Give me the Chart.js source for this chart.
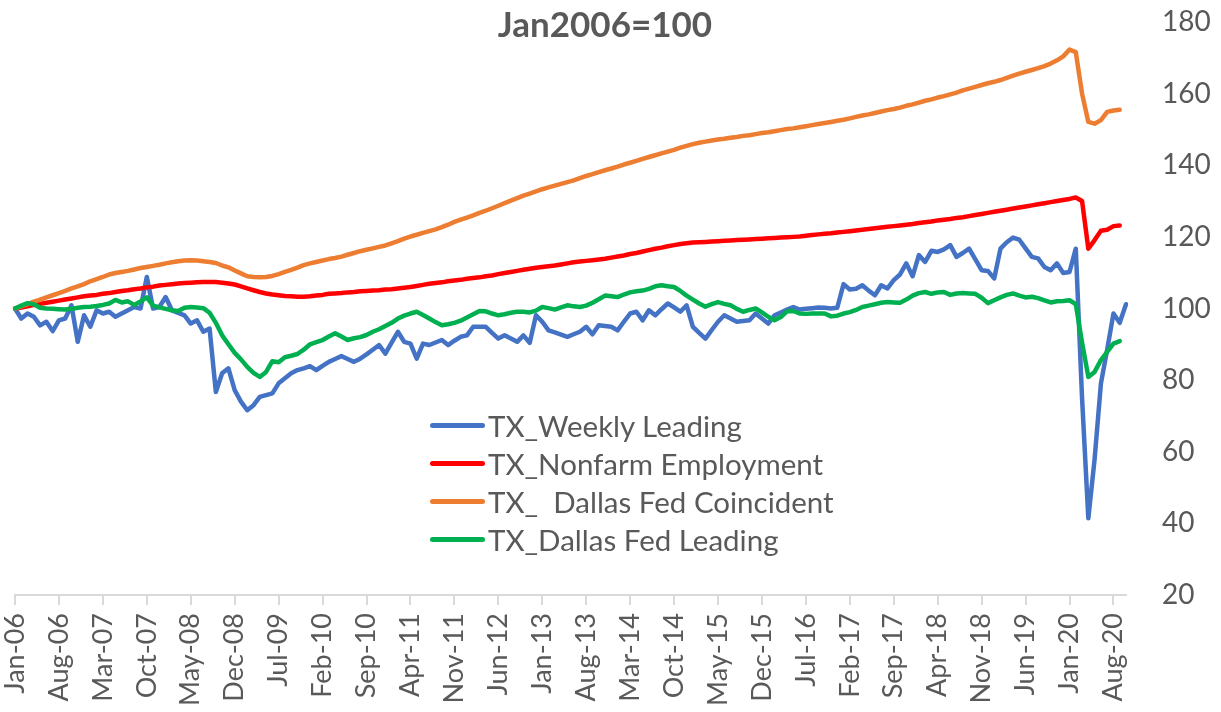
<!DOCTYPE html>
<html>
<head>
<meta charset="utf-8">
<title>Texas indexes, Jan2006=100</title>
<script src="https://cdn.jsdelivr.net/npm/chart.js@4.4.1/dist/chart.umd.min.js"></script>
<style>
  html, body { margin: 0; padding: 0; background: #fff; }
  #wrap { position: relative; width: 1221px; height: 712px; }
  #chart { display: block; }
  #title {
    position: absolute; left: 0; top: 2px; width: 1210px;
    text-align: center; font: bold 35px Lato, sans-serif; color: #595959;
  }
  #legend { position: absolute; left: 430px; top: 406px; font: 29.5px Lato, sans-serif; color: #595959; }
  #legend .row { height: 38px; display: flex; align-items: center; white-space: pre; }
  #legend .swatch { width: 55px; height: 5px; border-radius: 3px; margin-right: 3px; }
</style>
</head>
<body>
<div id="wrap">
  <canvas id="chart" width="1221" height="712"></canvas>
  <div id="title">Jan2006=100</div>
  <div id="legend"></div>
</div>
<script>
// monthly categories Jan-06 .. Oct-20
const monthNames = ["Jan", "Feb", "Mar", "Apr", "May", "Jun", "Jul", "Aug", "Sep", "Oct", "Nov", "Dec"];
const firstYear = 2006;
const lastYear = 2020;
const lastMonth = 10;

const categories = [];
for (let y = firstYear; y <= lastYear; y++) {
  for (let m = 0; m < 12; m++) {
    if (y === lastYear && m >= lastMonth) break;
    categories.push(monthNames[m] + "-" + String(y).slice(2));
  }
}

const yTicks = { min: 20, max: 180, step: 20 };

// TX_Weekly Leading (through Oct-20)
const weeklyLeading = [
  100.0, 97.2, 98.6, 97.7, 95.3, 96.3, 93.7, 96.7, 97.2, 100.9, 90.7, 98.1,
  94.9, 99.5, 98.6, 99.1, 97.7, 98.6, 99.5, 100.4, 100.0, 108.8, 100.0, 100.4,
  103.2, 99.5, 98.8, 98.1, 95.8, 96.7, 93.5, 94.4, 76.7, 81.9, 83.3, 77.2,
  74.0, 71.6, 73.0, 75.3, 75.8, 76.3, 79.1, 80.5, 81.9, 82.8, 83.3, 83.9,
  82.8, 84.0, 85.1, 85.9, 86.7, 85.9, 85.1, 86.0, 87.2, 88.5, 89.8, 87.4,
  90.5, 93.5, 90.7, 90.2, 86.0, 90.2, 89.8, 90.5, 91.2, 89.8, 91.0, 92.1,
  92.5, 94.9, 94.9, 94.9, 93.2, 91.6, 92.5, 91.6, 90.7, 92.5, 90.4, 98.1,
  96.3, 93.9, 93.3, 92.7, 92.1, 92.8, 93.5, 94.9, 92.8, 95.3, 95.1, 94.9,
  93.9, 96.3, 98.6, 99.1, 96.7, 99.5, 98.1, 99.8, 101.4, 100.3, 99.1, 100.9,
  94.9, 93.2, 91.6, 94.0, 96.3, 98.1, 97.2, 96.3, 96.5, 96.7, 98.6, 97.2,
  95.8, 98.1, 98.9, 99.7, 100.4, 99.7, 99.9, 100.1, 100.3, 100.2, 100.0, 100.2,
  106.8, 105.3, 105.5, 106.5, 105.0, 103.7, 106.5, 105.6, 107.9, 109.5, 112.6, 109.0,
  114.9, 113.0, 116.1, 115.8, 116.5, 117.7, 114.4, 115.5, 116.7, 113.7, 110.7, 110.5,
  108.4, 116.7, 118.5, 119.8, 119.2, 116.8, 114.4, 114.0, 111.6, 110.7, 112.6, 109.9,
  110.2, 116.7, 75.0, 41.4, 58.0, 79.0, 88.5, 98.6, 96.0, 101.2
];

// TX_Nonfarm Employment (through Sep-20)
const nonfarm = [
  100.0, 100.3, 100.6, 101.0, 101.3, 101.6, 101.9, 102.2, 102.5, 102.8, 103.1, 103.4,
  103.6, 103.8, 104.1, 104.3, 104.6, 104.9, 105.1, 105.4, 105.6, 105.9, 106.1, 106.4,
  106.6, 106.8, 107.0, 107.1, 107.2, 107.3, 107.4, 107.4, 107.4, 107.2, 107.0, 106.7,
  106.2, 105.6, 105.1, 104.6, 104.2, 103.9, 103.7, 103.5, 103.4, 103.3, 103.3, 103.4,
  103.6, 103.8, 104.1, 104.2, 104.3, 104.5, 104.6, 104.8, 104.9, 105.0, 105.1, 105.3,
  105.4, 105.6, 105.8, 106.0, 106.3, 106.6, 106.9, 107.1, 107.3, 107.6, 107.8, 108.0,
  108.3, 108.5, 108.7, 109.0, 109.2, 109.6, 109.9, 110.2, 110.5, 110.8, 111.1, 111.4,
  111.6, 111.8, 112.0, 112.3, 112.6, 112.9, 113.1, 113.3, 113.5, 113.7, 113.9, 114.2,
  114.5, 114.8, 115.2, 115.5, 115.9, 116.3, 116.7, 117.0, 117.4, 117.7, 118.0, 118.2,
  118.4, 118.5, 118.6, 118.7, 118.8, 118.9, 119.0, 119.1, 119.2, 119.3, 119.4, 119.5,
  119.6, 119.7, 119.8, 119.9, 120.0, 120.1, 120.3, 120.5, 120.7, 120.9, 121.0, 121.2,
  121.4, 121.6, 121.8, 122.0, 122.2, 122.4, 122.6, 122.8, 123.0, 123.2, 123.4, 123.6,
  123.9, 124.1, 124.3, 124.6, 124.8, 125.0, 125.3, 125.5, 125.8, 126.1, 126.4, 126.7,
  127.0, 127.3, 127.6, 127.9, 128.2, 128.5, 128.8, 129.1, 129.4, 129.7, 130.0, 130.3,
  130.6, 131.0, 130.0, 116.7, 119.1, 121.7, 122.0, 123.0, 123.2
];

// TX_ Dallas Fed Coincident (through Sep-20)
const coincident = [
  100.0, 100.6, 101.2, 101.9, 102.5, 103.1, 103.7, 104.3, 104.9, 105.6, 106.2, 106.8,
  107.6, 108.2, 108.8, 109.5, 109.9, 110.2, 110.5, 110.9, 111.3, 111.6, 111.9, 112.2,
  112.6, 112.9, 113.2, 113.4, 113.5, 113.4, 113.2, 113.0, 112.7, 112.0, 111.5, 110.6,
  109.8, 109.0, 108.8, 108.7, 108.8, 109.1, 109.6, 110.2, 110.8, 111.4, 112.1, 112.6,
  113.0, 113.4, 113.8, 114.1, 114.5, 115.0, 115.5, 116.0, 116.4, 116.8, 117.2, 117.6,
  118.2, 118.8, 119.5, 120.1, 120.6, 121.1, 121.6, 122.1, 122.7, 123.4, 124.2, 124.8,
  125.4, 126.0, 126.7, 127.3, 128.0, 128.7, 129.4, 130.1, 130.8, 131.5, 132.1, 132.7,
  133.3, 133.8, 134.3, 134.8, 135.3, 135.8, 136.4, 137.0, 137.5, 138.1, 138.6, 139.1,
  139.6, 140.2, 140.7, 141.2, 141.8, 142.3, 142.8, 143.3, 143.8, 144.3, 144.9, 145.4,
  145.9, 146.3, 146.6, 146.9, 147.2, 147.4, 147.7, 147.9, 148.2, 148.4, 148.7, 149.0,
  149.2, 149.5, 149.8, 150.1, 150.3, 150.6, 150.9, 151.2, 151.5, 151.8, 152.1, 152.4,
  152.7, 153.1, 153.5, 153.9, 154.2, 154.6, 155.0, 155.4, 155.7, 156.1, 156.6, 157.0,
  157.5, 158.0, 158.4, 158.9, 159.3, 159.8, 160.3, 160.9, 161.4, 161.9, 162.4, 162.9,
  163.3, 163.8, 164.4, 165.0, 165.6, 166.1, 166.6, 167.1, 167.7, 168.4, 169.3, 170.4,
  172.3, 171.6, 160.0, 152.1, 151.6, 152.6, 154.9, 155.3, 155.5
];

// TX_Dallas Fed Leading (through Sep-20)
const fedLeading = [
  100.0, 100.8, 101.5, 101.2, 100.2, 100.0, 99.9, 99.8, 99.7, 99.9, 100.2, 100.4,
  100.5, 100.7, 101.0, 101.4, 102.4, 101.7, 102.0, 101.0, 102.0, 103.1, 100.8, 100.3,
  99.9, 99.5, 99.3, 100.2, 100.4, 100.3, 100.1, 98.8, 96.0, 92.5, 90.0, 87.6,
  85.8, 83.7, 82.0, 80.9, 82.3, 85.3, 85.0, 86.4, 86.8, 87.3, 88.5, 90.0,
  90.6, 91.2, 92.2, 93.1, 92.2, 91.2, 91.7, 92.0, 92.6, 93.5, 94.2, 95.1,
  96.0, 97.2, 98.0, 98.6, 99.1, 98.2, 97.2, 96.2, 95.3, 95.6, 96.0, 96.6,
  97.5, 98.4, 99.3, 99.2, 98.6, 98.1, 98.4, 98.8, 99.1, 99.1, 98.9, 99.4,
  100.4, 100.1, 99.7, 100.3, 100.9, 100.6, 100.4, 100.8, 101.6, 102.6, 103.6, 103.4,
  103.2, 103.9, 104.5, 104.8, 105.0, 105.5, 106.2, 106.5, 106.2, 106.0, 104.9, 103.6,
  102.5, 101.4, 100.5, 101.2, 101.8, 101.3, 100.9, 99.9, 99.1, 99.6, 100.0, 98.9,
  97.7, 96.7, 97.6, 99.2, 99.3, 98.6, 98.5, 98.6, 98.6, 98.6, 97.8, 98.0,
  98.6, 99.0, 99.6, 100.4, 100.8, 101.2, 101.6, 101.8, 101.7, 101.6, 102.5, 103.6,
  104.3, 104.6, 104.1, 104.5, 104.6, 103.8, 104.2, 104.3, 104.2, 104.1, 103.0, 101.5,
  102.3, 103.1, 103.8, 104.2, 103.6, 103.1, 103.3, 102.9, 102.3, 101.7, 102.0, 102.1,
  102.3, 101.2, 90.5, 80.9, 82.3, 85.6, 87.9, 90.2, 90.9
];

const seriesNames = ["TX_Weekly Leading", "TX_Nonfarm Employment", "TX_  Dallas Fed Coincident", "TX_Dallas Fed Leading"];
const seriesColors = ["#4472C4", "#FF0000", "#ED7D31", "#00B050"];
const seriesData = [weeklyLeading, nonfarm, coincident, fedLeading];
const labelEvery = 7;
const grey = "#595959";

const datasets = seriesData.map(function (d, i) {
  return {
    label: seriesNames[i],
    data: d,
    borderColor: seriesColors[i],
    backgroundColor: seriesColors[i],
    order: seriesData.length - i   // green drawn on top, like Excel
  };
});

const chart = new Chart(document.getElementById("chart"), {
  type: "line",
  data: { labels: categories, datasets: datasets },
  options: {
    responsive: false,
    animation: false,
    layout: { padding: { left: 15, top: 22, right: 0, bottom: 0 } },
    plugins: { legend: { display: false }, tooltip: { enabled: false } },
    elements: {
      point: { radius: 0 },
      line: { tension: 0, borderWidth: 4.5, borderJoinStyle: "round", borderCapStyle: "round", fill: false }
    },
    scales: {
      x: {
        type: "category",
        offset: false,
        grid: { display: true, drawOnChartArea: false, drawTicks: true, tickLength: 10, color: "#d9d9d9", lineWidth: 2 },
        border: { display: true, color: "#d9d9d9", width: 2 },
        ticks: {
          autoSkip: false,
          minRotation: 90,
          maxRotation: 90,
          padding: 8,
          color: grey,
          font: { family: "Lato", size: 27 },
          callback: function (value, index) {
            return index % labelEvery === 0 ? this.getLabelForValue(value) : null;
          }
        },
        afterFit: function (scale) { scale.height = 117; }
      },
      y: {
        position: "right",
        min: yTicks.min,
        max: yTicks.max,
        // hidden tick marks only used as the gap between plot and labels
        grid: { display: false, drawTicks: true, tickLength: 36 },
        border: { display: false },
        ticks: { stepSize: yTicks.step, padding: 0, color: grey, font: { family: "Lato", size: 28 } },
        afterFit: function (scale) { scale.width = 95; }
      }
    }
  }
});

// legend inside the plot, built from the datasets
const legend = document.getElementById("legend");
chart.data.datasets.forEach(function (ds) {
  const row = document.createElement("div");
  row.className = "row";
  const sw = document.createElement("span");
  sw.className = "swatch";
  sw.style.background = ds.borderColor;
  const txt = document.createElement("span");
  txt.textContent = ds.label;
  row.appendChild(sw);
  row.appendChild(txt);
  legend.appendChild(row);
});
</script>
</body>
</html>
